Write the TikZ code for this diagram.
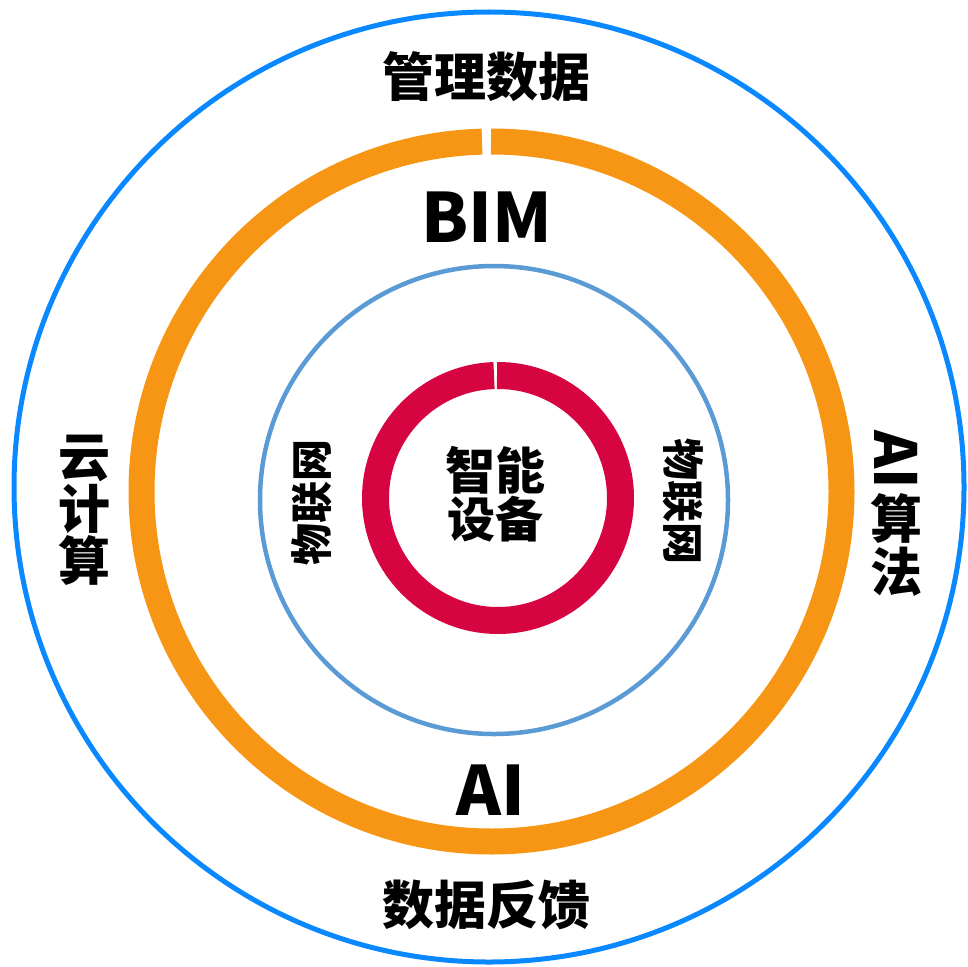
\documentclass[tikz,border=0pt]{standalone}
\usepackage{fontspec}
\setmainfont{Noto Sans CJK SC}[BoldFont=* Black]
\definecolor{outerblue}{RGB}{10,136,255}
\definecolor{innerblue}{RGB}{91,155,213}
\definecolor{ringorange}{RGB}{247,150,20}
\definecolor{ringred}{RGB}{214,4,64}
\tikzset{
  lbl/.style={inner sep=0pt, font=\bfseries\fontsize{#1}{#1}\selectfont, text=black, align=center},
}
\begin{document}
\begin{tikzpicture}[x=1pt,y=-1pt]
\useasboundingbox (0,0) rectangle (968,966);
% outer blue circle
\draw[outerblue, line width=5pt] (489,487) circle[radius=475];
% orange ring with gap at top
\draw[ringorange, line width=26pt, line cap=butt] (491.5,491.5) ++(269.92:350) arc[start angle=269.92, end angle=628.45, radius=350];
% inner blue circle
\draw[innerblue, line width=4.5pt] (494,500) circle[radius=234];
% red ring with gap at top
\draw[ringred, line width=27pt, line cap=butt] (498,498) ++(269.53:122.5) arc[start angle=269.53, end angle=628.13, radius=122.5];
% texts
\node[lbl=52] (mgmt) at (486,77) {管理数据};
\node[lbl=68] (bim) at (487,217) {BIM};
\node[lbl=68] (ai) at (491,790) {AI};
\node[lbl=52] (feedback) at (486,905) {数据反馈};
\node[lbl=52, text width=52pt] (cloud) at (84,510) {云\\计\\算};
\node[lbl=58, rotate=-90] (aitxt) at (896,460) {AI};
\node[lbl=52] (suan) at (896,518) {算};
\node[lbl=52] (fa) at (896,572) {法};
\node[lbl=48, align=center] (device) at (495,494) {\fontsize{50}{55}\selectfont 智能\\设备};
\node[lbl=42, rotate=90] (iotl) at (312,502) {物联网};
\node[lbl=42, rotate=-90] (iotr) at (683,501) {物联网};
\end{tikzpicture}
\end{document}
